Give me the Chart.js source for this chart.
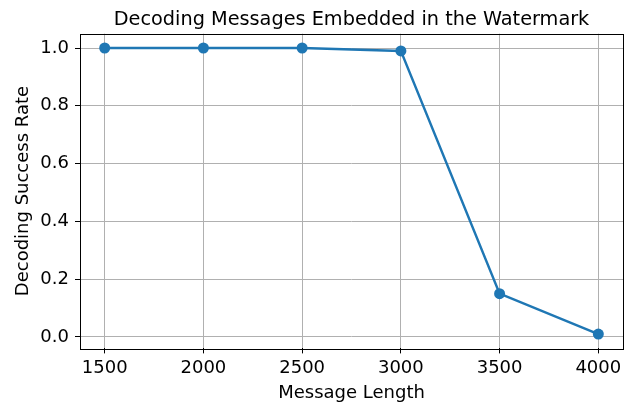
<!DOCTYPE html>
<html>
<head>
<meta charset="utf-8">
<script src="https://cdn.jsdelivr.net/npm/chart.js@4"></script>
<style>
  body { margin: 0; background: #fff; }
  #chart { display: block; }
</style>
</head>
<body>
<canvas id="chart" width="625" height="404"></canvas>
<script>
// data
const messageLengths = [1500, 2000, 2500, 3000, 3500, 4000];
const successRates = [1.0, 1.0, 1.0, 0.99, 0.15, 0.01];
const xTicks = [1500, 2000, 2500, 3000, 3500, 4000];
const yTicks = [0.0, 0.2, 0.4, 0.6, 0.8, 1.0];
const chartTitle = 'Decoding Messages Embedded in the Watermark';

const FONT = 'DejaVu Sans';

// box round the plot like matplotlib spines + title centred over the axes
const frame = {
  id: 'frame',
  afterDraw(chart) {
    const a = chart.chartArea;
    const c = chart.ctx;
    c.save();
    c.strokeStyle = '#000';
    c.lineWidth = 1;
    c.strokeRect(Math.round(a.left) + 0.5, Math.round(a.top) + 0.5,
      Math.round(a.right - a.left), Math.round(a.bottom - a.top));
    c.fillStyle = '#000';
    c.font = '19.3px "' + FONT + '"';
    c.textAlign = 'center';
    c.textBaseline = 'alphabetic';
    c.fillText(chartTitle, (a.left + a.right) / 2, 25);
    c.restore();
  }
};

const ctx = document.getElementById('chart').getContext('2d');
new Chart(ctx, {
  type: 'line',
  data: {
    datasets: [{
      data: messageLengths.map((x, i) => ({ x: x, y: successRates[i] })),
      borderColor: '#1f77b4',
      backgroundColor: '#1f77b4',
      borderWidth: 2.5,
      pointRadius: 5.5,
      pointBorderWidth: 0,
      tension: 0
    }]
  },
  options: {
    responsive: false,
    animation: false,
    layout: { autoPadding: false, padding: { left: 0, right: 2, top: 33.7, bottom: 0 } },
    plugins: {
      legend: { display: false },
      tooltip: { enabled: false },
      title: { display: false }
    },
    scales: {
      x: {
        type: 'linear',
        min: 1375,
        max: 4125,
        afterBuildTicks: s => { s.ticks = xTicks.map(v => ({ value: v })); },
        afterFit: s => { s.height = 55.6; s.paddingLeft = 0; s.paddingRight = 0; },
        ticks: {
          color: '#000',
          font: { family: FONT, size: 18 },
          padding: 4,
          maxRotation: 0,
          callback: v => String(v)
        },
        grid: { color: '#b0b0b0', lineWidth: 1, tickColor: '#000', tickLength: 5 },
        border: { display: false },
        title: {
          display: true,
          text: 'Message Length',
          color: '#000',
          font: { family: FONT, size: 18 },
          padding: { top: 0, bottom: 0 }
        }
      },
      y: {
        type: 'linear',
        min: -0.0395,
        max: 1.0495,
        afterBuildTicks: s => { s.ticks = yTicks.map(v => ({ value: v })); },
        afterFit: s => { s.width = 80; s.paddingTop = 0; s.paddingBottom = 0; },
        ticks: {
          color: '#000',
          font: { family: FONT, size: 18 },
          padding: 6,
          callback: v => v.toFixed(1)
        },
        grid: { color: '#b0b0b0', lineWidth: 1, tickColor: '#000', tickLength: 5 },
        border: { display: false },
        title: {
          display: true,
          text: 'Decoding Success Rate',
          color: '#000',
          font: { family: FONT, size: 18 },
          padding: { top: 13, bottom: 0 }
        }
      }
    }
  },
  plugins: [frame]
});
</script>
</body>
</html>
